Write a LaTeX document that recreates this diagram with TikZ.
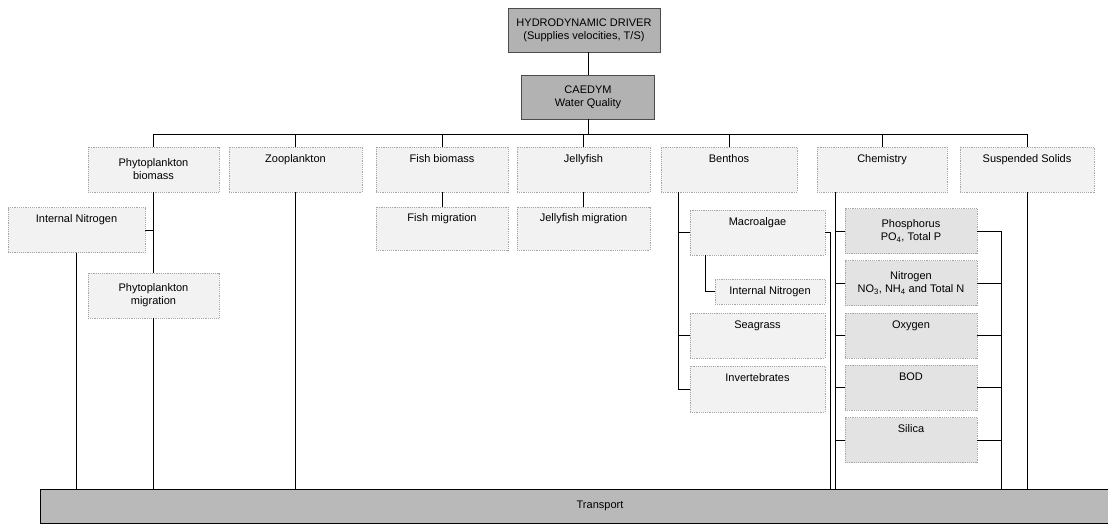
\documentclass[tikz,border=0pt]{standalone}
\usepackage{fontspec}
\setmainfont{Liberation Sans}
\begin{document}
\begin{tikzpicture}[x=1pt,y=-1pt,line width=0.85pt,
  every node/.style={font=\fontsize{11}{13}\selectfont,align=center,inner sep=2pt,outer sep=0pt},
  drvbox/.style={draw=black!70,fill=gray!60,minimum width=#1,minimum height=44pt},
  grpbox/.style={draw=gray!70,densely dotted,fill=gray!10,minimum width=#1,minimum height=45pt},
  chembox/.style={draw=gray!70,densely dotted,fill=gray!22,minimum width=132pt,minimum height=45pt},
  trbox/.style={draw=black,fill=gray!55,minimum width=1068pt,minimum height=34pt}]
  \useasboundingbox (0,0) rectangle (1108,527);
  % drivers
  \node[drvbox=152pt] (hydro) at (584,30) {HYDRODYNAMIC DRIVER\\(Supplies velocities, T/S)};
  \node[drvbox=133pt] (caedym) at (588,97) {CAEDYM\\Water Quality};
  \node[trbox] (trans) at (574,506) {\hspace{52pt}Transport};
  % top row
  \node[grpbox=131pt] (phyto) at (153.5,169.5) {Phytoplankton\\biomass};
  \node[grpbox=133pt] (zoo) at (295.5,169.5) {Zooplankton\\[9pt]};
  \node[grpbox=132pt] (fish) at (442,169.5) {Fish biomass\\[9pt]};
  \node[grpbox=133pt] (jelly) at (583.5,169.5) {Jellyfish\\[9pt]};
  \node[grpbox=136pt] (benthos) at (729,169.5) {Benthos\\[9pt]};
  \node[grpbox=130pt] (chem) at (882,169.5) {Chemistry\\[9pt]};
  \node[grpbox=134pt] (susp) at (1027,169.5) {Suspended Solids\\[9pt]};
  % second level
  \node[grpbox=137pt] (intN) at (76.5,230) {Internal Nitrogen\\[9pt]};
  \node[grpbox=131pt] (phymig) at (153.5,295.5) {Phytoplankton\\migration};
  \node[grpbox=132pt,minimum height=43pt] (fishmig) at (442,228.5) {Fish migration\\[9pt]};
  \node[grpbox=133pt,minimum height=43pt] (jellymig) at (583.5,228.5) {Jellyfish migration\\[9pt]};
  \node[grpbox=135pt] (macro) at (757.5,232.5) {Macroalgae\\[9pt]};
  \node[grpbox=110pt,minimum height=25pt] (intNb) at (770,291.5) {Internal Nitrogen};
  \node[grpbox=135pt] (seagrass) at (757.5,335.5) {Seagrass\\[9pt]};
  \node[grpbox=135pt,minimum height=46pt] (invert) at (757.5,389) {Invertebrates\\[9pt]};
  \node[chembox] (phos) at (911,231) {Phosphorus\\PO\textsubscript{4}, Total P};
  \node[chembox] (nitro) at (911,283) {Nitrogen\\NO\textsubscript{3}, NH\textsubscript{4} and Total N};
  \node[chembox] (oxy) at (911,335.5) {Oxygen\\[9pt]};
  \node[chembox] (bod) at (911,387.5) {BOD\\[9pt]};
  \node[chembox] (silica) at (911,440) {Silica\\[9pt]};
  % helper coordinates
  \coordinate (bus) at (0,134);
  \coordinate (bx) at (678,0);
  \coordinate (mx) at (705,0);
  \coordinate (ax) at (830,0);
  \coordinate (cx) at (835,0);
  \coordinate (rx) at (1001,0);
  % connectors
  \draw (hydro.south -| caedym.north) -- (caedym.north);
  \draw (caedym.south) -- (caedym.south |- bus);
  \draw (phyto.north) -- (phyto.north |- bus) -- (susp.north |- bus) -- (susp.north);
  \foreach \n in {zoo,fish,jelly,benthos,chem}
    \draw (\n.north) -- (\n.north |- bus);
  \draw (phyto.south) -- (phymig.north);
  \draw (phymig.south) -- (phymig.south |- trans.north);
  \draw (intN.east) -- (intN.east -| phyto.south);
  \draw (intN.south) -- (intN.south |- trans.north);
  \draw (zoo.south) -- (zoo.south |- trans.north);
  \draw (fish.south) -- (fishmig.north);
  \draw (jelly.south) -- (jellymig.north);
  \draw (benthos.south -| bx) |- (invert.west);
  \foreach \n in {macro,seagrass}
    \draw (\n.west) -- (\n.west -| bx);
  \draw (macro.south -| mx) |- (intNb.west);
  \draw (macro.east) -| (ax |- trans.north);
  \draw (chem.south -| cx) -- (cx |- trans.north);
  \foreach \n in {phos,nitro,oxy,bod,silica}
    \draw (\n.west) -- (\n.west -| cx);
  \draw (phos.east) -| (rx |- trans.north);
  \foreach \n in {nitro,oxy,bod,silica}
    \draw (\n.east) -- (\n.east -| rx);
  \draw (susp.south) -- (susp.south |- trans.north);
\end{tikzpicture}
\end{document}
